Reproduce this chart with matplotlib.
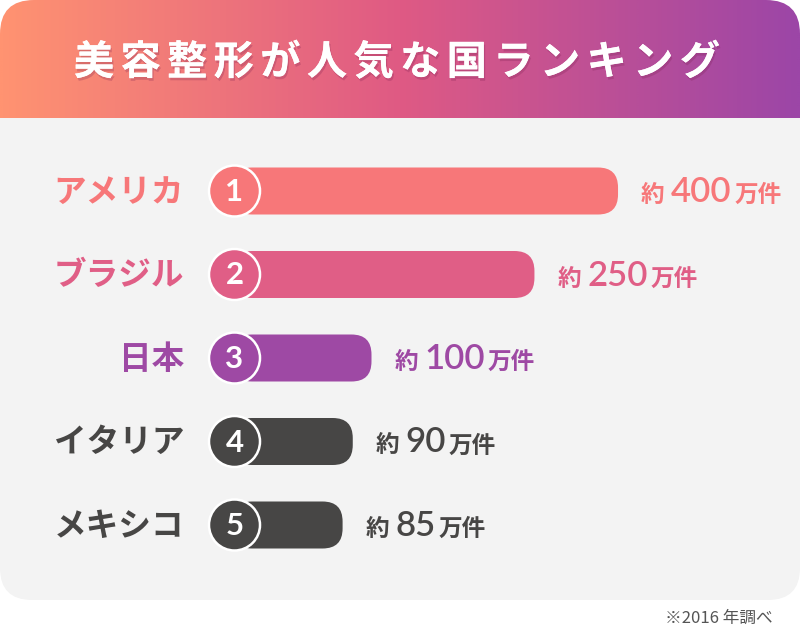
import matplotlib
matplotlib.use("Agg")
import matplotlib.pyplot as plt
import numpy as np
from matplotlib.patches import FancyBboxPatch, Circle
from matplotlib.colors import LinearSegmentedColormap
import matplotlib.patheffects as pe

# ---------------- data ----------------
title = "美容整形が人気な国ランキング"
countries = ["アメリカ", "ブラジル", "日本", "イタリア", "メキシコ"]
ranks = ["1", "2", "3", "4", "5"]
values = [400, 250, 100, 90, 85]          # 万件
value_prefix = "約"
value_unit = "万件"
footnote = "※2016 年調べ"
colors = ["#F77779", "#E05E86", "#9E49A4", "#474645", "#474645"]

JP = ["Noto Sans CJK JP", "DejaVu Sans"]
NUM = ["Lato", "DejaVu Sans"]

W, H = 800, 635
fig = plt.figure(figsize=(8, 6.35), dpi=100, facecolor="white")
ax = fig.add_axes([0, 0, 1, 1])
ax.set_xlim(0, W)
ax.set_ylim(H, 0)
ax.axis("off")

# bar value axis (log scale) covering the bar region
bx0, bx1 = 250, 640
axb = fig.add_axes([bx0 / W, 0, (bx1 - bx0) / W, 1])
axb.set_xscale("log")
axb.set_xlim(50.5, 452.6)
axb.axis("off")
axb.patch.set_alpha(0)

# ---------------- background ----------------
panel = FancyBboxPatch((0, 60), W, 540, boxstyle="round,pad=0,rounding_size=32",
                       fc="#F3F3F3", ec="none", zorder=1)
ax.add_patch(panel)

grad_cmap = LinearSegmentedColormap.from_list(
    "hdr", [(0, "#FF9371"), (0.5, "#DF5A84"), (1, "#9C46A7")])
gradient = np.linspace(0, 1, 400).reshape(1, -1)
clip = FancyBboxPatch((0, 0), W, 220, boxstyle="round,pad=0,rounding_size=34",
                      fc="none", ec="none", transform=ax.transData)
ax.add_patch(clip)
im = ax.imshow(gradient, cmap=grad_cmap, extent=(0, W, 118, 0), aspect="auto",
               zorder=2, interpolation="bilinear")
im.set_clip_path(clip)
ax.set_xlim(0, W)
ax.set_ylim(H, 0)

# title with letter spacing
shadow = [pe.withSimplePatchShadow(offset=(1, -2), shadow_rgbFace="#7a2050", alpha=0.25),
          pe.Normal()]
pitch = 46.6
x_first = 94
for i, ch in enumerate(title):
    ax.text(x_first + i * pitch, 63, ch, fontsize=29, fontweight="bold", color="white",
            ha="center", va="center", family=JP, zorder=5, path_effects=shadow)

# ---------------- bars ----------------
renderer = fig.canvas.get_renderer()
row0, row_step = 191, 83.5
bar_h = 47
for i, (name, rk, v, c) in enumerate(zip(countries, ranks, values, colors)):
    yc = row0 + i * row_step
    disp = axb.transData.transform((v, 0.5))
    x_end = ax.transData.inverted().transform(disp)[0]
    bar = FancyBboxPatch((232, yc - bar_h / 2), x_end - 232, bar_h,
                         boxstyle="round,pad=0,rounding_size=20",
                         fc=c, ec="none", zorder=3)
    ax.add_patch(bar)
    circ = Circle((234.5, yc), 25.5, fc=c, ec="white", lw=1.8, zorder=4)
    ax.add_patch(circ)
    ax.text(234.5, yc + 1, rk, fontsize=22.5, fontweight="bold", color="white",
            ha="center", va="center", family=NUM, zorder=5)
    # country label
    ax.text(184, yc + 1, name, fontsize=23.5, fontweight="bold", color=c,
            ha="right", va="center", family=JP, zorder=5)
    # value label
    yb = yc + 11
    x = x_end + 23
    t1 = ax.text(x, yb, value_prefix, fontsize=17, fontweight="bold", color=c,
                 ha="left", va="baseline", family=JP, zorder=5)
    w1 = t1.get_window_extent(renderer).width
    x += w1 + 6
    t2 = ax.text(x, yb, str(v), fontsize=25, fontweight="semibold", color=c,
                 ha="left", va="baseline", family=NUM, zorder=5)
    w2 = t2.get_window_extent(renderer).width
    x += w2 + 3
    ax.text(x, yb, value_unit, fontsize=17, fontweight="bold", color=c,
            ha="left", va="baseline", family=JP, zorder=5)

# footnote
ax.text(773, 623, footnote, fontsize=12, color="#555555", ha="right", va="baseline",
        family=JP, zorder=5)

fig.savefig("out.png", dpi=100, facecolor="white")
